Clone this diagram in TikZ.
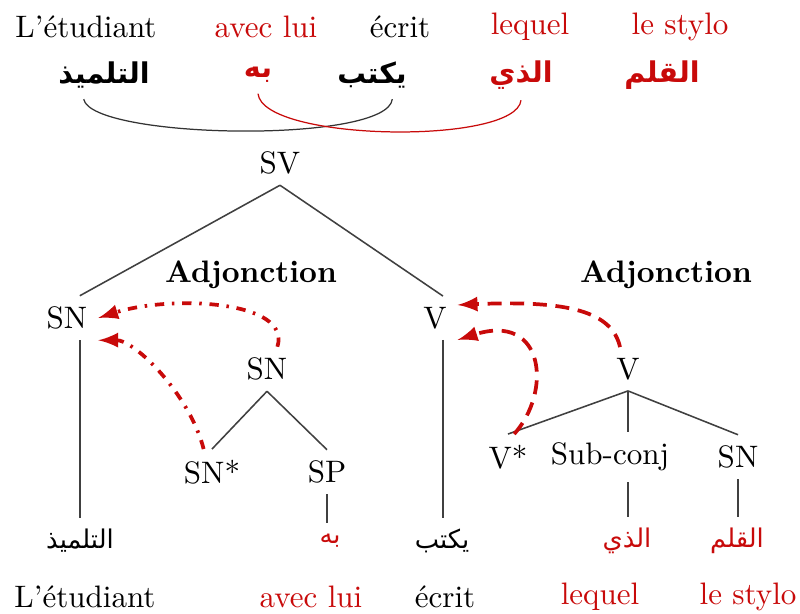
\documentclass[tikz,border=0pt]{standalone}
\usepackage{fontspec}
\usepackage{xcolor}
\usetikzlibrary{arrows}
\newfontfamily\arabicfont[Script=Arabic]{DejaVu Sans}
\TeXXeTstate=1
\definecolor{adjred}{RGB}{200,10,10}

\begin{document}
\begin{tikzpicture}[x=0.322pt,y=-0.322pt,
    arab/.style={font=\arabicfont\fontsize{8.3}{10}\selectfont},
    arabtop/.style={font=\arabicfont\bfseries\fontsize{9.2}{11}\selectfont},
    branch/.style={draw=black!75,line width=0.5pt},
    adjdot/.style={adjred,line width=1.2pt,-latex,dash pattern=on 3pt off 2.5pt on 0.8pt off 2.5pt},
    adjdash/.style={adjred,line width=1.2pt,-latex,dash pattern=on 4.5pt off 2.8pt}]
    \useasboundingbox (0,0) rectangle (800,614);

    % top line: french gloss and arabic sentence
    \node (g1) at (86,27) {L'étudiant};
    \node[adjred] (g2) at (266,27) {avec lui};
    \node (g3) at (400,27) {écrit};
    \node[adjred] (g4) at (530,27) {lequel};
    \node[adjred] (g5) at (680,27) {le stylo};
    \node[arabtop] (t1) at (104,75) {\beginR التلميذ\endR};
    \node[arabtop,adjred] (t2) at (258,75) {\beginR به\endR};
    \node[arabtop] (t3) at (372,75) {\beginR يكتب\endR};
    \node[arabtop,adjred] (t4) at (521,75) {\beginR الذي\endR};
    \node[arabtop,adjred] (t5) at (662,75) {\beginR القلم\endR};
    \draw[black!80] (t1.-130) .. controls +(8,40) and +(-5,45) .. (t3.-50);
    \draw[adjred] (t2.south) .. controls +(5,48) and +(-5,45) .. (t4.south);

    % tree
    \node (SV) at (280,163) {SV};
    \node[font=\bfseries] (adj1) at (251,275) {Adjonction};
    \node[font=\bfseries] (adj2) at (666,275) {Adjonction};
    \node (SNl) at (67,318) {SN};
    \node (Vl) at (435,318) {V};
    \node (SNm) at (267,369) {SN};
    \node (SNs) at (212,472) {SN*};
    \node (SP) at (327,472) {SP};
    \node (Vr) at (628,369) {V};
    \node (Vs) at (508,457) {V*};
    \node (SC) at (610,457) {Sub-conj};
    \node (SNr) at (738,457) {SN};

    \draw[branch] (SV.south) -- (SNl.60);
    \draw[branch] (SV.south) -- (Vl.70);
    \draw[branch] (SNm.south) -- (SNs.north);
    \draw[branch] (SNm.south) -- (SP.north);
    \draw[branch] (Vr.south) -- (Vs.north);
    \draw[branch] (Vr.south) -- (Vr.south |- SC.north);
    \draw[branch] (Vr.south) -- (SNr.north);

    % bottom line: arabic words and french gloss
    \node[arab] (a1) at (80,541) {\beginR التلميذ\endR};
    \node[arab,adjred] (a2) at (330,541) {\beginR به\endR};
    \node[arab] (a3) at (442,541) {\beginR يكتب\endR};
    \node[arab,adjred] (a4) at (627,541) {\beginR الذي\endR};
    \node[arab,adjred] (a5) at (737,541) {\beginR القلم\endR};
    \node (b1) at (85,597) {L'étudiant};
    \node[adjred] (b2) at (311,597) {avec lui};
    \node (b3) at (445,597) {écrit};
    \node[adjred] (b4) at (600,597) {lequel};
    \node[adjred] (b5) at (748,597) {le stylo};

    \draw[branch] (SNl.-60) -- (SNl.-60 |- a1.north);
    \draw[branch] (SP.south) -- (SP.south |- a2.north);
    \draw[branch] (Vl.-70) -- (Vl.-70 |- a3.north);
    \draw[branch] (Vr.south |- SC.south) -- (Vr.south |- a4.north);
    \draw[branch] (SNr.south) -- (SNr.south |- a5.north);

    % adjunction arrows
    \draw[adjdot] (SNm.65) .. controls (292,300) and (170,295) .. (SNl.east);
    \draw[adjdot] (SNs.110) .. controls (190,395) and (135,340) .. (SNl.south east);
    \draw[adjdash] (Vr.110) .. controls (612,312) and (570,300) .. (Vl.30);
    \draw[adjdash] (Vs.75) .. controls (552,392) and (545,312) .. (Vl.south east);
\end{tikzpicture}
\end{document}
